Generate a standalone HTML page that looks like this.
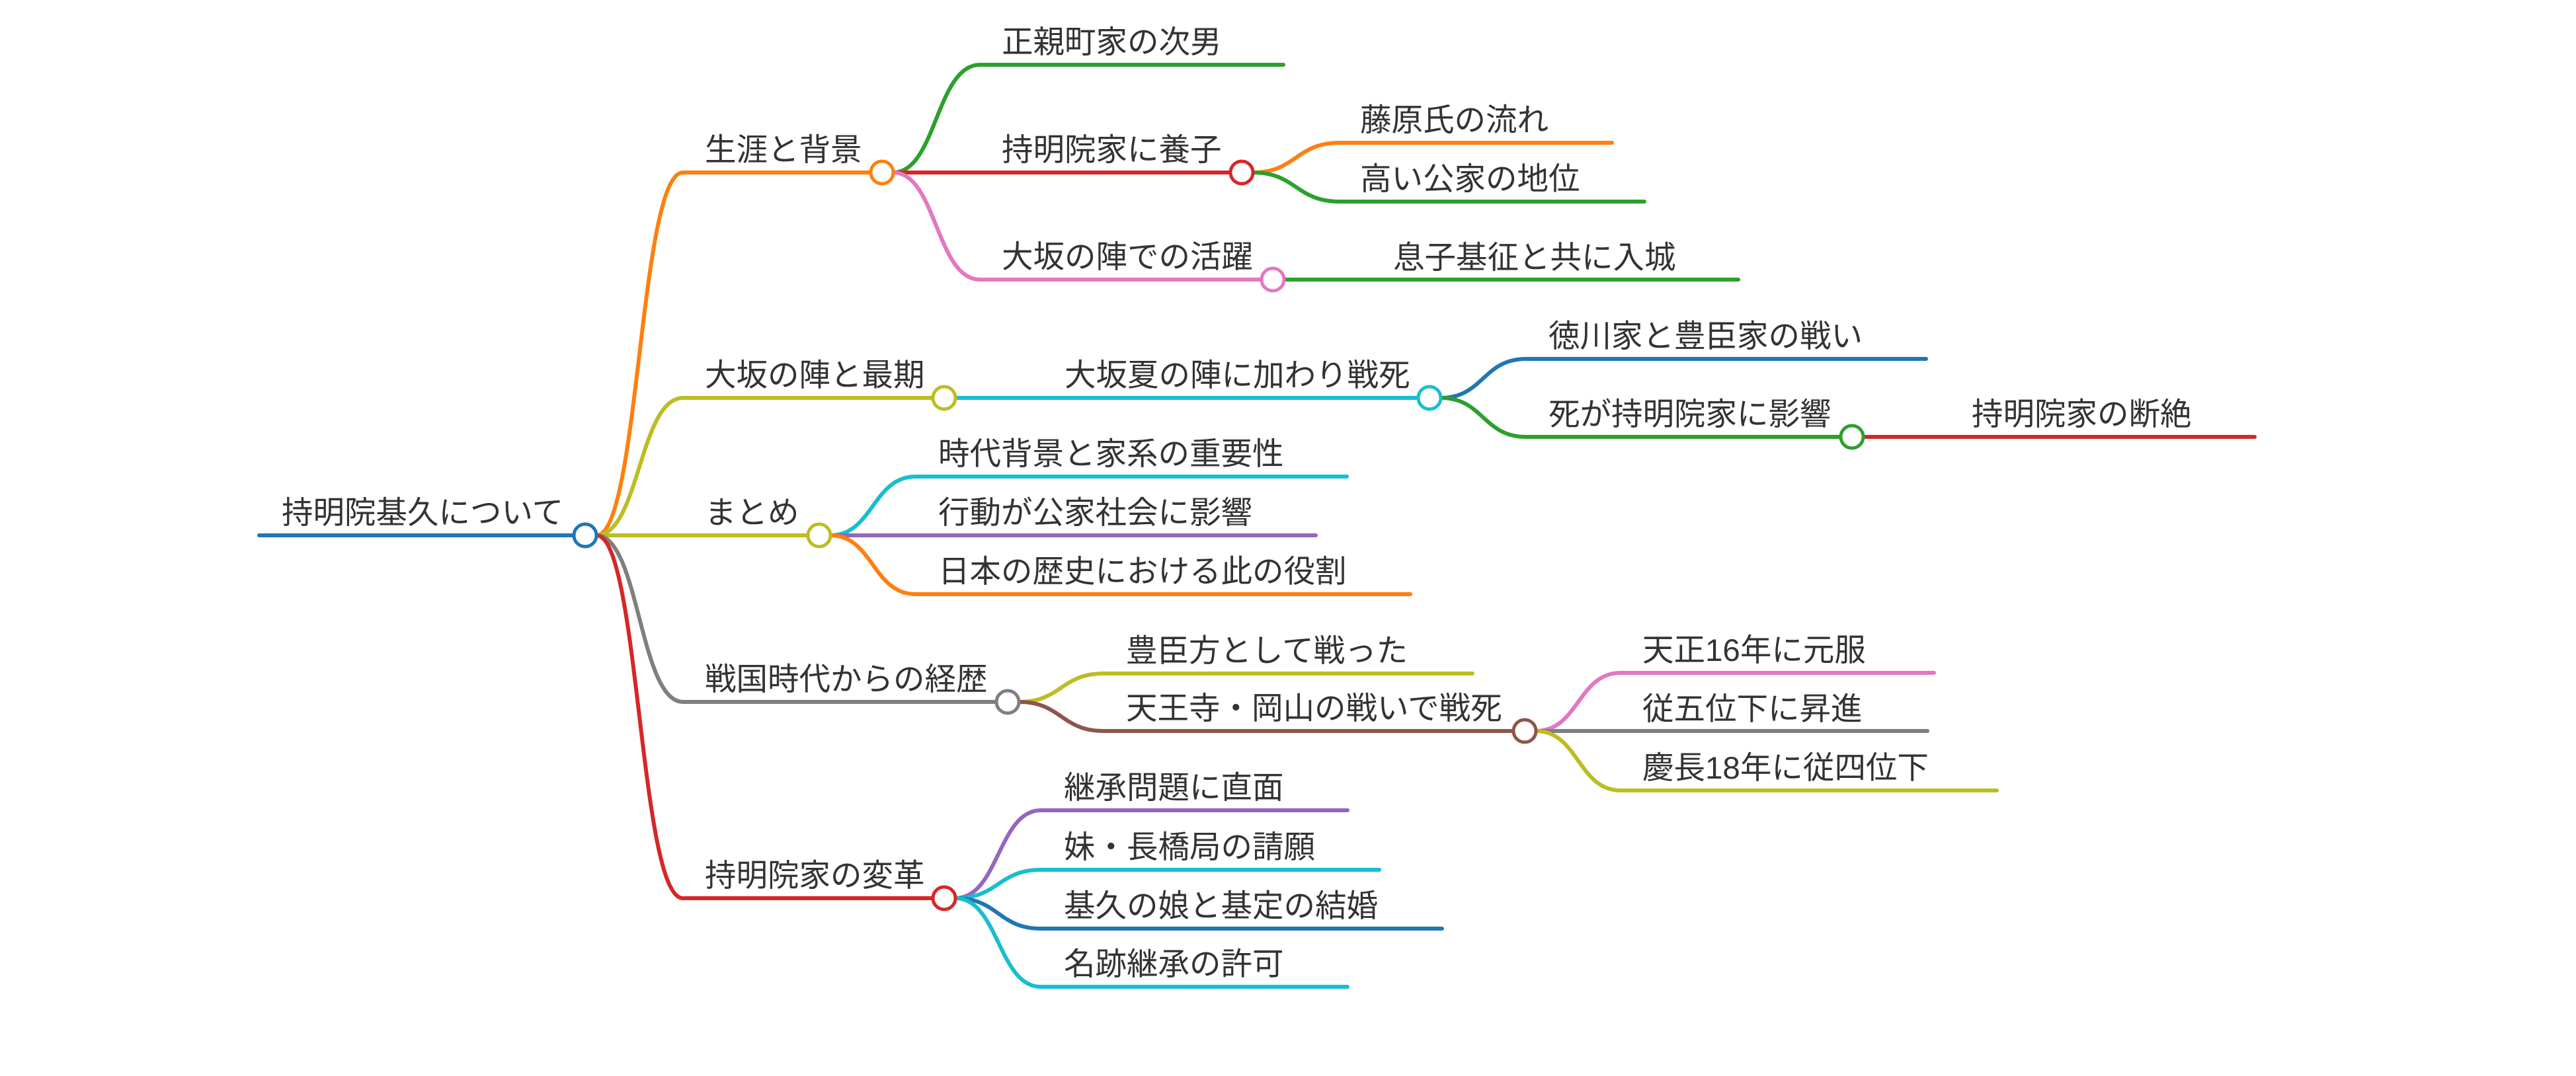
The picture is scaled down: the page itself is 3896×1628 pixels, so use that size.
<!DOCTYPE html>
<html><head><meta charset="utf-8"><style>
html,body{margin:0;padding:0;background:#fff;}
svg{display:block;}
text{font-family:"Liberation Sans","Noto Sans CJK JP",sans-serif;font-size:47.5px;fill:#333;}
path{fill:none;stroke-width:6;stroke-linecap:round;}
circle{fill:#fff;stroke-width:5;}
</style></head><body>
<svg width="3896" height="1628" viewBox="0 0 3896 1628" xmlns="http://www.w3.org/2000/svg">
<path d="M392 810 H867" stroke="#1f77b4"/>
<path d="M902 810 C967 810 967 261 1033 261 H1316" stroke="#ff7f0e"/>
<path d="M902 810 C967 810 967 602 1033 602 H1410" stroke="#bcbd22"/>
<path d="M902 810 H1221" stroke="#bcbd22"/>
<path d="M902 810 C967 810 967 1062 1033 1062 H1506" stroke="#7f7f7f"/>
<path d="M902 810 C967 810 967 1359 1033 1359 H1410" stroke="#d62728"/>
<path d="M1351 261 C1416 261 1416 98 1482 98 H1941" stroke="#2ca02c"/>
<path d="M1351 261 H1860" stroke="#d62728"/>
<path d="M1351 261 C1416 261 1416 423 1482 423 H1907" stroke="#e377c2"/>
<path d="M1895 261 C1960 261 1960 216 2026 216 H2438" stroke="#ff7f0e"/>
<path d="M1895 261 C1960 261 1960 305 2026 305 H2487" stroke="#2ca02c"/>
<path d="M1942 423 H2629" stroke="#2ca02c"/>
<path d="M1445 602 H2144" stroke="#17becf"/>
<path d="M2179 602 C2243 602 2243 543 2308 543 H2913" stroke="#1f77b4"/>
<path d="M2179 602 C2243 602 2243 661 2308 661 H2783" stroke="#2ca02c"/>
<path d="M2818 661 H3410" stroke="#d62728"/>
<path d="M1256 810 C1320 810 1320 721 1385 721 H2037" stroke="#17becf"/>
<path d="M1256 810 H1990" stroke="#9467bd"/>
<path d="M1256 810 C1320 810 1320 899 1385 899 H2133" stroke="#ff7f0e"/>
<path d="M1541 1062 C1605 1062 1605 1019 1669 1019 H2227" stroke="#bcbd22"/>
<path d="M1541 1062 C1605 1062 1605 1106 1669 1106 H2288" stroke="#8c564b"/>
<path d="M2323 1106 C2387 1106 2387 1018 2451 1018 H2925" stroke="#e377c2"/>
<path d="M2323 1106 H2915" stroke="#7f7f7f"/>
<path d="M2323 1106 C2387 1106 2387 1196 2451 1196 H3020" stroke="#bcbd22"/>
<path d="M1445 1359 C1510 1359 1510 1226 1574 1226 H2038" stroke="#9467bd"/>
<path d="M1445 1359 C1510 1359 1510 1316 1574 1316 H2086" stroke="#17becf"/>
<path d="M1445 1359 C1510 1359 1510 1405 1574 1405 H2181" stroke="#1f77b4"/>
<path d="M1445 1359 C1510 1359 1510 1493 1574 1493 H2038" stroke="#17becf"/>
<circle cx="885" cy="810" r="17" stroke="#1f77b4"/>
<circle cx="1334" cy="261" r="17" stroke="#ff7f0e"/>
<circle cx="1428" cy="602" r="17" stroke="#bcbd22"/>
<circle cx="1239" cy="810" r="17" stroke="#bcbd22"/>
<circle cx="1524" cy="1062" r="17" stroke="#7f7f7f"/>
<circle cx="1428" cy="1359" r="17" stroke="#d62728"/>
<circle cx="1878" cy="261" r="17" stroke="#d62728"/>
<circle cx="1925" cy="423" r="17" stroke="#e377c2"/>
<circle cx="2162" cy="602" r="17" stroke="#17becf"/>
<circle cx="2801" cy="661" r="17" stroke="#2ca02c"/>
<circle cx="2306" cy="1106" r="17" stroke="#8c564b"/>
<text x="426" y="792">持明院基久について</text>
<text x="1066" y="243">生涯と背景</text>
<text x="1066" y="584">大坂の陣と最期</text>
<text x="1066" y="792">まとめ</text>
<text x="1066" y="1044">戦国時代からの経歴</text>
<text x="1066" y="1341">持明院家の変革</text>
<text x="1515" y="80">正親町家の次男</text>
<text x="1515" y="243">持明院家に養子</text>
<text x="1515" y="405">大坂の陣での活躍</text>
<text x="2057" y="198">藤原氏の流れ</text>
<text x="2057" y="287">高い公家の地位</text>
<text x="2107" y="406">息子基征と共に入城</text>
<text x="1610" y="584">大坂夏の陣に加わり戦死</text>
<text x="2342" y="525">徳川家と豊臣家の戦い</text>
<text x="2342" y="643">死が持明院家に影響</text>
<text x="2982" y="643">持明院家の断絶</text>
<text x="1419" y="703">時代背景と家系の重要性</text>
<text x="1419" y="792">行動が公家社会に影響</text>
<text x="1419" y="881">日本の歴史における此の役割</text>
<text x="1703" y="1001">豊臣方として戦った</text>
<text x="1703" y="1088">天王寺・岡山の戦いで戦死</text>
<text x="2484" y="1000">天正16年に元服</text>
<text x="2484" y="1089">従五位下に昇進</text>
<text x="2484" y="1178">慶長18年に従四位下</text>
<text x="1609" y="1208">継承問題に直面</text>
<text x="1609" y="1298">妹・長橋局の請願</text>
<text x="1609" y="1387">基久の娘と基定の結婚</text>
<text x="1609" y="1475">名跡継承の許可</text>
</svg>
</body></html>
